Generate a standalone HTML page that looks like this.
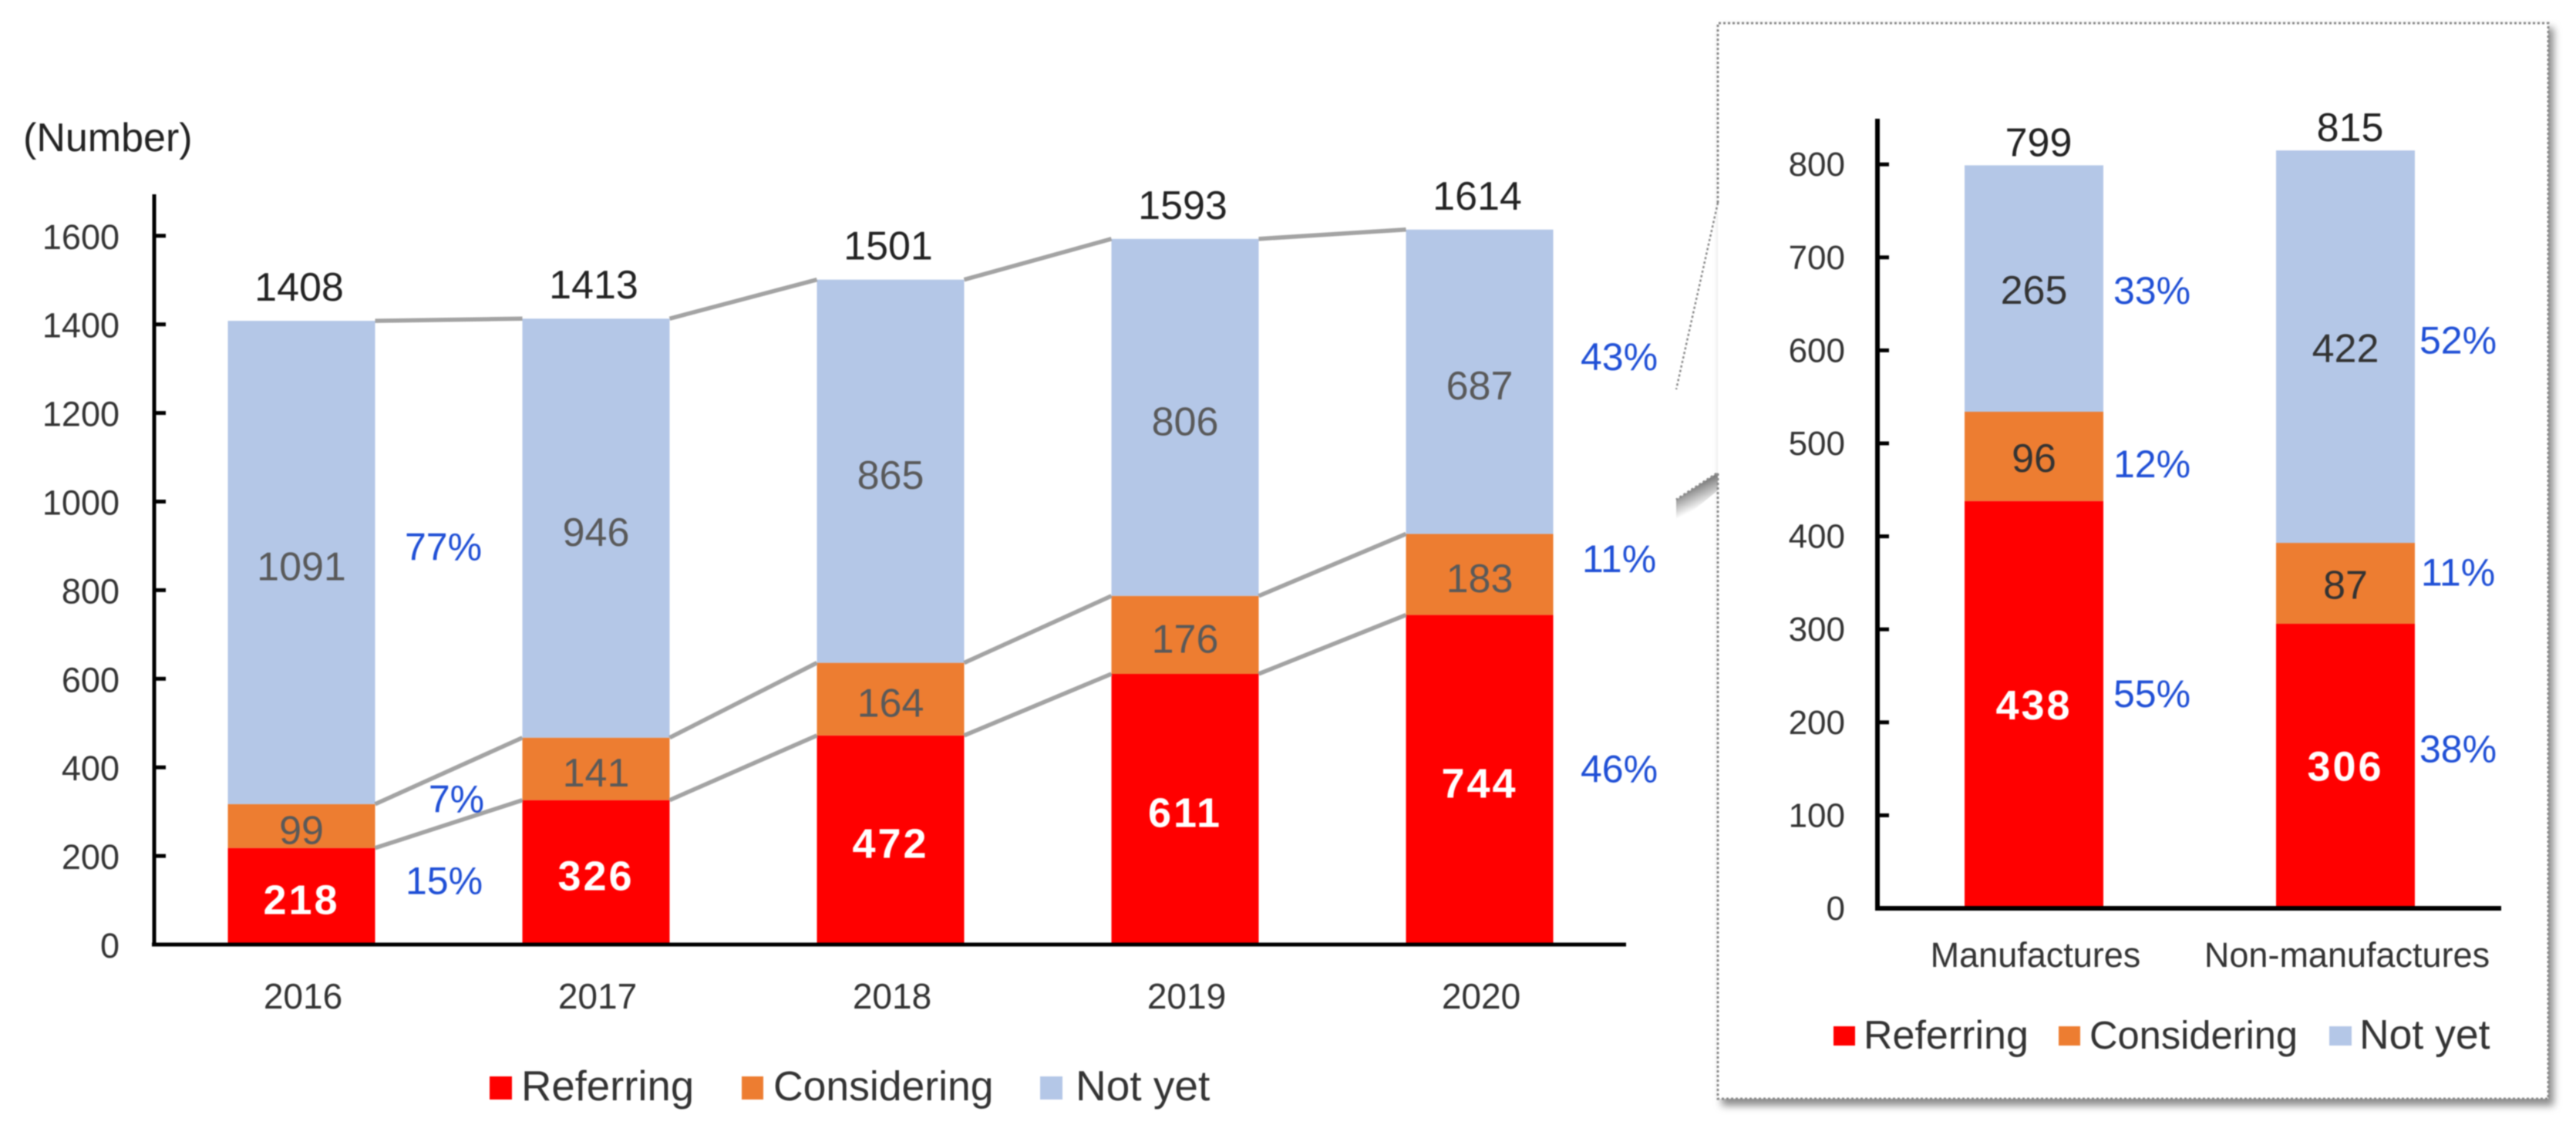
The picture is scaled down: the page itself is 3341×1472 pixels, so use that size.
<!DOCTYPE html>
<html lang="en">
<head>
<meta charset="utf-8">
<title>Referring status chart</title>
<style>
  html, body { margin: 0; padding: 0; background: #fff; }
  body { width: 3341px; height: 1472px; overflow: hidden; }
  #chart-root { display: block; filter: blur(0.7px); }
  text { font-family: "Liberation Sans", sans-serif; }
</style>
</head>
<body>
<svg id="chart-root" xmlns="http://www.w3.org/2000/svg" width="3341" height="1472" viewBox="0 0 3341 1472">
  <defs>
    <filter id="box-shadow-blur" x="-5%" y="-5%" width="110%" height="110%"><feGaussianBlur stdDeviation="5"/></filter>
    <linearGradient id="wedge-shade" gradientUnits="userSpaceOnUse" x1="2197" y1="629" x2="2210" y2="656">
      <stop offset="0" stop-color="#777"/>
      <stop offset="1" stop-color="#fff"/>
    </linearGradient>
  </defs>
  <rect x="0" y="0" width="3341" height="1472" fill="#fff"/>

  <g>
    <rect x="2233" y="36" width="1079" height="1398" fill="#8c8c8c" filter="url(#box-shadow-blur)"/>
    <rect x="2228" y="30" width="1077" height="1395" fill="#fff"/>
    <polygon points="2228,613 2228,636 2174,680 2174,648" fill="url(#wedge-shade)"/>
    <path d="M2228 263 L2228 30 L3305 30 L3305 1425 L2228 1425 L2228 613 L2174 648" fill="none" stroke="#8a8a8a" stroke-width="3" stroke-dasharray="3 3"/>
    <line x1="2228" y1="263" x2="2174" y2="505" stroke="#8a8a8a" stroke-width="2.5" stroke-dasharray="3 3"/>
  </g>

  <text x="30" y="196" font-size="52" fill="#222">(Number)</text>

  <g id="main-chart"></g>
  <g id="inset-chart"></g>

  <g>
    <g>
      <rect x="635" y="1396" width="29" height="30" fill="#FF0000"/>
      <text x="676" y="1427" font-size="54.5" fill="#333">Referring</text>
    </g>
    <g>
      <rect x="962" y="1396" width="28" height="30" fill="#ED7D31"/>
      <text x="1003" y="1427" font-size="53.5" fill="#333">Considering</text>
    </g>
    <g>
      <rect x="1349" y="1396" width="29" height="30" fill="#B4C7E7"/>
      <text x="1395" y="1427" font-size="55" fill="#333">Not yet</text>
    </g>
  </g>

  <g>
    <g>
      <rect x="2378" y="1331" width="28" height="25" fill="#FF0000"/>
      <text x="2417" y="1360" font-size="52" fill="#333">Referring</text>
    </g>
    <g>
      <rect x="2670" y="1331" width="28" height="25" fill="#ED7D31"/>
      <text x="2710" y="1360" font-size="50.6" fill="#333">Considering</text>
    </g>
    <g>
      <rect x="3021" y="1331" width="29" height="25" fill="#B4C7E7"/>
      <text x="3060" y="1360" font-size="53.5" fill="#333">Not yet</text>
    </g>
  </g>
</svg>

<script>
// ---- main chart data ----
const years = ['2016', '2017', '2018', '2019', '2020'];
const referring = [218, 326, 472, 611, 744];
const considering = [99, 141, 164, 176, 183];
const notYet = [1091, 946, 865, 806, 687];
const totals = [1408, 1413, 1501, 1593, 1614];
const yearTicks = [0, 200, 400, 600, 800, 1000, 1200, 1400, 1600];
const sharesFirstYear = ['15%', '7%', '77%'];
const sharesLastYear = ['46%', '11%', '43%'];

// ---- inset chart data ----
const industries = ['Manufactures', 'Non-manufactures'];
const industryReferring = [438, 306];
const industryConsidering = [96, 87];
const industryNotYet = [265, 422];
const industryTotals = [799, 815];
const industryTicks = [0, 100, 200, 300, 400, 500, 600, 700, 800];
const industryShareManufactures = ['55%', '12%', '33%'];
const industryShareNonManufactures = ['38%', '11%', '52%'];

const NS = 'http://www.w3.org/2000/svg';
const RED = '#FF0000', ORANGE = '#ED7D31', BLUE = '#B4C7E7', PCT = '#1F4FD6';
const slug = s => String(s).toLowerCase().replace(/[^a-z0-9]+/g, '-');

function mk(parent, tag, attrs, content) {
  const node = document.createElementNS(NS, tag);
  for (const k in attrs) node.setAttribute(k, attrs[k]);
  if (content !== undefined) node.textContent = content;
  parent.appendChild(node);
  return node;
}

// ---- axis functions ----
const mainY = v => 1225 - v * 0.5745;
const mainX = i => 200 + 382 * (i + 0.5);
const insetY = v => 1178 - v * 1.206;
const insetX = i => 2436 + 404 * (i + 0.5);

// ---- label placement relative to the marks ----
const layout = {
  main: {
    labelDy: { referring: 23, considering: 23, notYet: 23 },
    totalGap: 26
  },
  inset: {
    labelDy: { referring: 19, considering: 20, notYet: 20 },
    totalGap: 12
  }
};

function drawAxes(g, prefix, ticks, y, x0, x1, topY, tickLen, fontSize, labelRight, baselineDy, width) {
  const yLine = mk(g, 'line', { x1: x0, y1: topY, x2: x0, y2: y(0) + 2, stroke: '#000', 'stroke-width': width });
  
  
  const xLine = mk(g, 'line', { x1: x0 - 3, y1: y(0), x2: x1, y2: y(0), stroke: '#000', 'stroke-width': width });
  
  
  ticks.forEach(t => {
    if (t !== 0) {
      const tick = mk(g, 'line', { x1: x0, y1: y(t), x2: x0 + tickLen, y2: y(t), stroke: '#000', 'stroke-width': 5 });
      
      
    }
    const lab = mk(g, 'text', { x: labelRight, y: y(t) + baselineDy, 'text-anchor': 'end', 'font-size': fontSize, fill: '#333' }, String(t));
    
    
  });
}

function drawStack(g, prefix, cats, x, y, barW, refV, conV, notV) {
  cats.forEach((cat, i) => {
    const a = refV[i], b = a + conV[i], c = b + notV[i];
    const r = mk(g, 'rect', { x: x(i) - barW / 2, y: y(a), width: barW, height: y(0) - y(a), fill: RED });
    
    
    const o = mk(g, 'rect', { x: x(i) - barW / 2, y: y(b), width: barW, height: y(a) - y(b), fill: ORANGE });
    
    
    const n = mk(g, 'rect', { x: x(i) - barW / 2, y: y(c), width: barW, height: y(b) - y(c), fill: BLUE });
    
    
  });
}

function drawSegmentLabels(g, prefix, cats, x, y, refV, conV, notV, dy, fontSize, midColor) {
  cats.forEach((cat, i) => {
    const a = refV[i], b = a + conV[i], c = b + notV[i];
    const t1 = mk(g, 'text', { x: x(i), y: y(a / 2) + dy.referring, 'text-anchor': 'middle', 'font-size': fontSize + 2, 'font-weight': 'bold', 'letter-spacing': 3, fill: '#fff' }, String(refV[i]));
    
    
    const t2 = mk(g, 'text', { x: x(i), y: y((a + b) / 2) + dy.considering, 'text-anchor': 'middle', 'font-size': fontSize, fill: midColor }, String(conV[i]));
    
    
    const t3 = mk(g, 'text', { x: x(i), y: y((b + c) / 2) + dy.notYet, 'text-anchor': 'middle', 'font-size': fontSize, fill: midColor }, String(notV[i]));
    
    
  });
}

function drawTotals(g, prefix, cats, x, y, totalsV, gap, fontSize, shift) {
  cats.forEach((cat, i) => {
    const t = mk(g, 'text', { x: x(i) + shift, y: y(totalsV[i]) - gap, 'text-anchor': 'middle', 'font-size': fontSize, fill: '#222' }, String(totalsV[i]));
    
    
  });
}

function drawCategoryLabels(g, prefix, cats, x, baseline, fontSize) {
  cats.forEach((cat, i) => {
    const t = mk(g, 'text', { x: x(i) + 2, y: baseline, 'text-anchor': 'middle', 'font-size': fontSize, fill: '#333' }, cat);
    
    
  });
}

function drawShare(g, name, cx, yPos, text) {
  const t = mk(g, 'text', { x: cx, y: yPos, 'text-anchor': 'middle', 'font-size': 50, fill: PCT }, text);
  
  
}

// ---- main chart ----
(function () {
  const g = document.getElementById('main-chart');
  const barW = 191;
  const ref = referring;
  const con = referring.map((v, i) => v + considering[i]);
  const tot = con.map((v, i) => v + notYet[i]);

  drawStack(g, 'yearly', years, mainX, mainY, barW, referring, considering, notYet);

  [[ref, 'referring'], [con, 'considering'], [tot, 'total']].forEach(([series, key]) => {
    for (let i = 0; i < years.length - 1; i++) {
      const line = mk(g, 'line', {
        x1: mainX(i) + barW / 2, y1: mainY(series[i]),
        x2: mainX(i + 1) - barW / 2, y2: mainY(series[i + 1]),
        stroke: '#a3a3a3', 'stroke-width': 5.5
      });
      
      
    }
  });

  drawAxes(g, 'yearly', yearTicks, mainY, 200, 2109, 252, 15, 45, 155, 17, 5);
  drawSegmentLabels(g, 'yearly', years, mainX, mainY, referring, considering, notYet, layout.main.labelDy, 52, '#595959');
  drawTotals(g, 'yearly', years, mainX, mainY, totals, layout.main.totalGap, 52, -3);
  drawCategoryLabels(g, 'yearly', years, mainX, 1308, 46);

  const y0 = referring[0], y1 = y0 + considering[0], y2 = y1 + notYet[0];
  drawShare(g, 'share-referring-2016', 576, mainY(y0 / 2) - 3, sharesFirstYear[0]);
  drawShare(g, 'share-considering-2016', 592, mainY((y0 + y1) / 2) - 18, sharesFirstYear[1]);
  drawShare(g, 'share-not-yet-2016', 575, mainY((y1 + y2) / 2) - 3, sharesFirstYear[2]);
  const last = years.length - 1;
  const z0 = referring[last], z1 = z0 + considering[last], z2 = z1 + notYet[last];
  drawShare(g, 'share-referring-2020', 2100, mainY(z0 / 2) + 3, sharesLastYear[0]);
  drawShare(g, 'share-considering-2020', 2100, mainY((z0 + z1) / 2) - 3, sharesLastYear[1]);
  drawShare(g, 'share-not-yet-2020', 2100, mainY((z1 + z2) / 2) - 15, sharesLastYear[2]);
})();

// ---- inset chart ----
(function () {
  const g = document.getElementById('inset-chart');
  const barW = 180;
  drawStack(g, 'industry', industries, insetX, insetY, barW, industryReferring, industryConsidering, industryNotYet);
  drawAxes(g, 'industry', industryTicks, insetY, 2435, 3244, 154, 15, 44, 2393, 15, 6);
  drawSegmentLabels(g, 'industry', industries, insetX, insetY, industryReferring, industryConsidering, industryNotYet, layout.inset.labelDy, 52, '#333');
  drawTotals(g, 'industry', industries, insetX, insetY, industryTotals, layout.inset.totalGap, 52, 6);
  drawCategoryLabels(g, 'industry', industries, insetX, 1254, 45);

  const a0 = industryReferring[0], a1 = a0 + industryConsidering[0], a2 = a1 + industryNotYet[0];
  drawShare(g, 'share-referring-manufactures', 2791, insetY(a0 / 2) + 3, industryShareManufactures[0]);
  drawShare(g, 'share-considering-manufactures', 2791, insetY((a0 + a1) / 2) + 27, industryShareManufactures[1]);
  drawShare(g, 'share-not-yet-manufactures', 2791, insetY((a1 + a2) / 2) + 20, industryShareManufactures[2]);
  const b0 = industryReferring[1], b1 = b0 + industryConsidering[1], b2 = b1 + industryNotYet[1];
  drawShare(g, 'share-referring-non-manufactures', 3188, insetY(b0 / 2) - 5, industryShareNonManufactures[0]);
  drawShare(g, 'share-considering-non-manufactures', 3188, insetY((b0 + b1) / 2) + 3, industryShareNonManufactures[1]);
  drawShare(g, 'share-not-yet-non-manufactures', 3188, insetY((b1 + b2) / 2) + 9, industryShareNonManufactures[2]);
})();
</script>
</body>
</html>
